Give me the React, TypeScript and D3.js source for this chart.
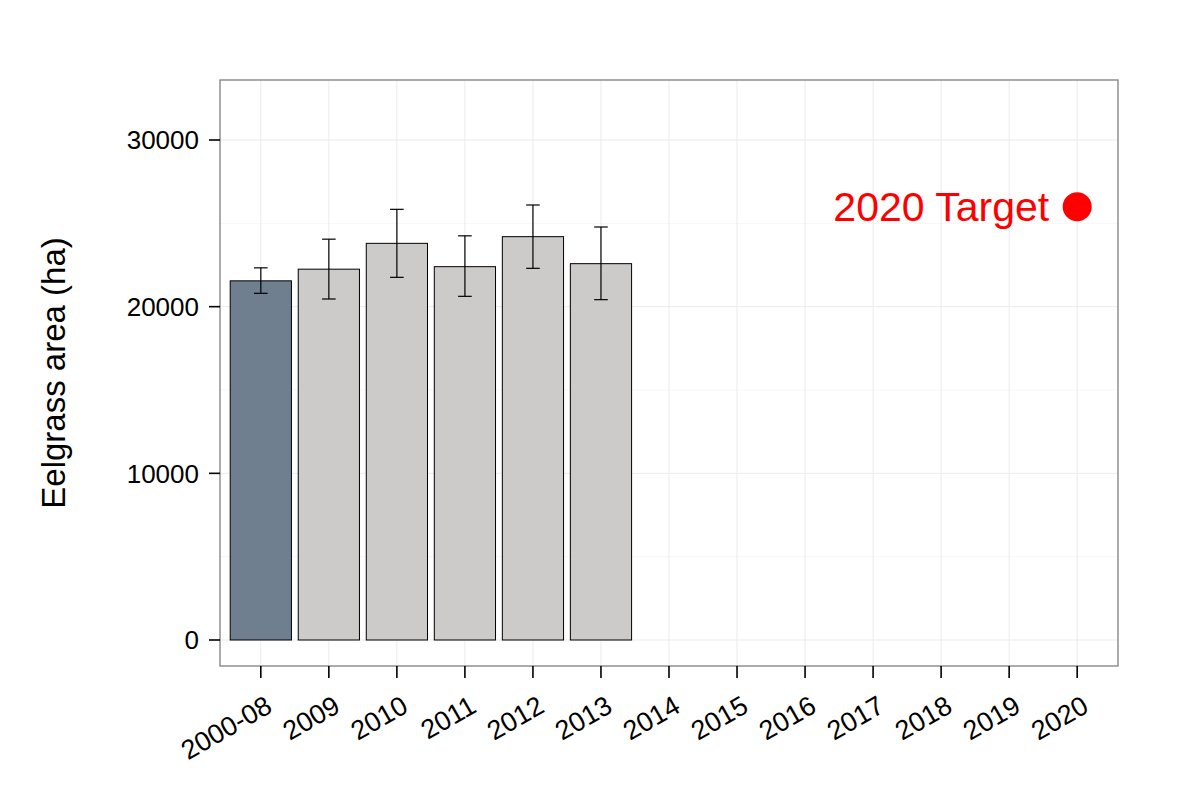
import React from "react";
import * as d3 from "d3";

const categories = ["2000-08","2009","2010","2011","2012","2013","2014","2015","2016","2017","2018","2019","2020"];
const barCats = ["2000-08","2009","2010","2011","2012","2013"];
const barValues = [21550, 22250, 23800, 22400, 24200, 22580];
const errLow = [20800, 20460, 21760, 20620, 22300, 20420];
const errHigh = [22330, 24050, 25840, 24250, 26100, 24780];
const barFills = ["#6f7f8f", "#cdcaca", "#cdcaca", "#cdcaca", "#cdcaca", "#cdcaca"];
const yTicks = [0, 10000, 20000, 30000];
const yMinor = [5000, 15000, 25000];
const targetCat = "2020";
const targetValue = 26000;
const targetLabel = "2020 Target";

export default function App() {
  const W = 1200, H = 800;
  const left = 220, right = 1118, top = 80, bottom = 666;
  const step = (right - left) / (categories.length - 1 + 1.2);
  const x = d3.scalePoint<string>().domain(categories).range([left + 0.6 * step, right - 0.6 * step]);
  const y = d3.scaleLinear().domain([0, 30000]).range([640, 140]);
  const bw = step * 0.9;
  const ew = step * 0.2;
  const font = "Liberation Sans, Arial, sans-serif";
  return (
    <svg width={W} height={H} style={{ display: "block", position: "absolute", left: 0, top: 0 }} fontFamily={font}>
      <rect x={0} y={0} width={W} height={H} fill="#fff" />
      {yMinor.map(v => (
        <line key={"mn" + v} x1={left} x2={right} y1={y(v)} y2={y(v)} stroke="#f7f7f7" strokeWidth={1} />
      ))}
      {yTicks.map(v => (
        <line key={"mj" + v} x1={left} x2={right} y1={y(v)} y2={y(v)} stroke="#ebebeb" strokeWidth={1} />
      ))}
      {categories.map(c => (
        <line key={"vx" + c} x1={x(c)} x2={x(c)} y1={top} y2={bottom} stroke="#ebebeb" strokeWidth={1} />
      ))}
      {barCats.map((c, i) => (
        <rect key={"b" + c} x={x(c)! - bw / 2} y={y(barValues[i])} width={bw} height={y(0) - y(barValues[i])}
          fill={barFills[i]} stroke="#000" strokeWidth={1} />
      ))}
      {barCats.map((c, i) => (
        <g key={"e" + c} stroke="#000" strokeWidth={1.2}>
          <line x1={x(c)} x2={x(c)} y1={y(errLow[i])} y2={y(errHigh[i])} />
          <line x1={x(c)! - ew / 2} x2={x(c)! + ew / 2} y1={y(errLow[i])} y2={y(errLow[i])} />
          <line x1={x(c)! - ew / 2} x2={x(c)! + ew / 2} y1={y(errHigh[i])} y2={y(errHigh[i])} />
        </g>
      ))}
      <circle cx={x(targetCat)} cy={y(targetValue)} r={14.5} fill="#ff0000" />
      <text x={x(targetCat)! - 28} y={y(targetValue)} dy="0.36em" textAnchor="end" fill="#ff0000" fontSize={41}>{targetLabel}</text>
      <rect x={left} y={top} width={right - left} height={bottom - top} fill="none" stroke="#7f7f7f" strokeWidth={1.3} />
      {yTicks.map(v => (
        <g key={"yt" + v}>
          <line x1={left - 11} x2={left} y1={y(v)} y2={y(v)} stroke="#000" strokeWidth={1.6} />
          <text x={left - 21} y={y(v)} dy="0.36em" textAnchor="end" fontSize={26} fill="#000">{v}</text>
        </g>
      ))}
      {categories.map(c => (
        <g key={"xt" + c}>
          <line x1={x(c)} x2={x(c)} y1={bottom} y2={bottom + 12} stroke="#000" strokeWidth={1.6} />
          <text transform={`translate(${x(c)! + 13},711) rotate(-30)`} textAnchor="end" fontSize={27} fill="#000">{c}</text>
        </g>
      ))}
      <text transform={`translate(65,${(top + bottom) / 2}) rotate(-90)`} textAnchor="middle" fontSize={33} fill="#000">Eelgrass area (ha)</text>
    </svg>
  );
}
